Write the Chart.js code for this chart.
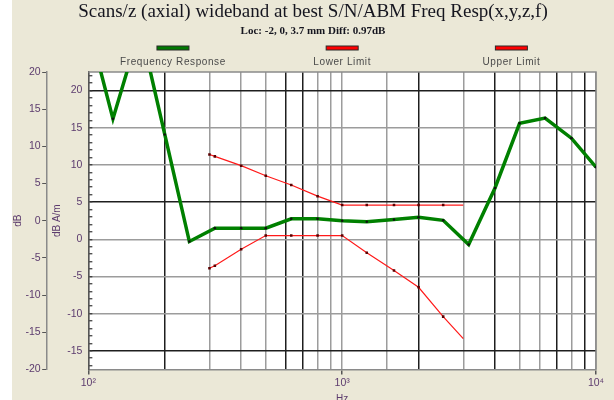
<!DOCTYPE html>
<html>
<head>
<meta charset="utf-8">
<title>Scans/z (axial) wideband - Freq Resp</title>
<script src="https://cdn.jsdelivr.net/npm/chart.js@4.4.0/dist/chart.umd.min.js"></script>
<style>
  html, body { margin: 0; padding: 0; background: #fff; overflow: hidden; }
  #wrap { position: absolute; left: 12px; top: 0; width: 602px; height: 405px; background: #ebe8d7; }
</style>
</head>
<body>
<div id="wrap"><canvas id="chart" width="602" height="405"></canvas></div>
<script>
// 1/3 octave response (dB A/m)
const freqHz = [100, 125, 160, 200, 250, 315, 400, 500, 630, 800, 1000, 1250, 1600, 2000, 2500, 3150, 4000, 5000, 6300, 8000, 10000];
const freqDb = [29, 16.2, 28.5, 14.1, -0.3, 1.5, 1.5, 1.5, 2.75, 2.75, 2.5, 2.35, 2.65, 2.95, 2.55, -0.7, 6.9, 15.6, 16.3, 13.6, 9.7];

// limit masks
const limitHz = [300, 315, 400, 500, 630, 800, 1000, 1250, 1600, 2000, 2500, 3000];
const lowerLimitDb = [-3.9, -3.55, -1.35, 0.5, 0.5, 0.5, 0.5, -1.8, -4.2, -6.45, -10.4, -13.35];
const upperLimitDb = [11.4, 11.15, 9.9, 8.55, 7.3, 5.8, 4.6, 4.6, 4.6, 4.6, 4.6, 4.6];

// axis ticks
const xTickValues = [100, 1000, 10000];
const xTickLabels = ['10²', '10³', '10⁴'];
const yMajorTicks = [-15, -10, -5, 0, 5, 10, 15, 20];
const yOuterTicks = [-20, -15, -10, -5, 0, 5, 10, 15, 20];

// grid lines that came out dark in the original render
const darkX = [200, 600, 700, 2000, 4000, 7000, 9000];
const darkY = [20, 5, -15];

const labelColor = '#5c3b6e';
const tickFont = { family: '"Liberation Sans", Arial, sans-serif', size: 10.5 };

function toPoints(xs, ys) {
    return xs.map((x, i) => ({ x: x, y: ys[i] }));
}

const plotFrame = {
    id: 'plotFrame',
    beforeDraw(chart) {
        const { ctx, chartArea: a } = chart;
        ctx.save();
        ctx.fillStyle = '#fff';
        ctx.fillRect(a.left, a.top, a.right - a.left, a.bottom - a.top);
        ctx.restore();
    },
    beforeDatasetsDraw(chart) {
        const { ctx, chartArea: a } = chart;
        ctx.save();
        ctx.strokeStyle = '#8a8a8a';
        ctx.lineWidth = 1.5;
        ctx.beginPath();
        ctx.moveTo(a.left, a.top);
        ctx.lineTo(a.right, a.top);
        ctx.lineTo(a.right, a.bottom);
        ctx.stroke();
        ctx.restore();
    }
};

// legend: sample bar above each label, spread over the plot width
const headerLegend = {
    id: 'headerLegend',
    afterDraw(chart) {
        const { ctx, chartArea: a } = chart;
        const w = a.right - a.left;
        chart.data.datasets.forEach((ds, i) => {
            const cx = a.left + w * (2 * i + 1) / 6;
            ctx.save();
            ctx.fillStyle = ds.legendColor;
            ctx.fillRect(cx - 16, a.top - 26, 32, 4);
            ctx.strokeStyle = '#2a2a2a';
            ctx.lineWidth = 1;
            ctx.strokeRect(cx - 16, a.top - 26, 32, 4);
            ctx.font = '10px "Liberation Sans", Arial, sans-serif';
            ctx.letterSpacing = '0.6px';
            ctx.fillStyle = '#4a4a4a';
            ctx.textAlign = 'center';
            ctx.textBaseline = 'middle';
            ctx.fillText(ds.label, cx, a.top - 9.5);
            ctx.restore();
        });
    }
};

const lastLimit = limitHz.length - 1;

new Chart(document.getElementById('chart'), {
    type: 'line',
    data: {
        datasets: [{
            label: 'Frequency Response',
            data: toPoints(freqHz, freqDb),
            borderColor: '#008000',
            legendColor: '#007800',
            borderWidth: 3.5,
            pointRadius: 1.3,
            pointBackgroundColor: '#111',
            pointBorderWidth: 0,
            yAxisID: 'y'
        }, {
            label: 'Lower Limit',
            data: toPoints(limitHz, lowerLimitDb),
            borderColor: '#ff1a1a',
            legendColor: '#ff0000',
            borderWidth: 1.2,
            pointStyle: 'rect',
            pointRadius: ctx => ctx.dataIndex === lastLimit ? 0 : 1.8,
            pointBackgroundColor: '#5a0000',
            pointBorderWidth: 0,
            yAxisID: 'y'
        }, {
            label: 'Upper Limit',
            data: toPoints(limitHz, upperLimitDb),
            borderColor: '#ff1a1a',
            legendColor: '#ff0000',
            borderWidth: 1.2,
            pointStyle: 'rect',
            pointRadius: ctx => ctx.dataIndex === lastLimit ? 0 : 1.8,
            pointBackgroundColor: '#5a0000',
            pointBorderWidth: 0,
            yAxisID: 'y'
        }]
    },
    options: {
        responsive: false,
        animation: false,
        devicePixelRatio: 1,
        layout: { padding: 0 },
        plugins: {
            legend: { display: false },
            tooltip: { enabled: false },
            title: {
                display: true,
                text: 'Scans/z (axial) wideband at best S/N/ABM Freq Resp(x,y,z,f)',
                color: '#15151f',
                font: { family: '"Liberation Serif", "Times New Roman", serif', size: 19, weight: 'normal' },
                padding: { top: 1, bottom: 0 }
            },
            subtitle: {
                display: true,
                text: 'Loc: -2, 0, 3.7 mm Diff: 0.97dB',
                color: '#15151f',
                font: { family: '"Liberation Serif", "Times New Roman", serif', size: 11, weight: 'bold' },
                padding: { top: 1, bottom: 34 }
            }
        },
        scales: {
            x: {
                type: 'logarithmic',
                min: 100,
                max: 10000,
                // keep a right margin for the plot without narrowing the title box
                afterFit: scale => { scale.paddingRight = 18; },
                border: { color: '#8a8a8a', width: 1.5 },
                grid: {
                    color: ctx => darkX.includes(ctx.tick.value) ? '#1e1e1e' : '#9c9c9c',
                    lineWidth: 1.5,
                    tickLength: 5,
                    tickColor: ctx => xTickValues.includes(ctx.tick.value) ? '#555' : 'rgba(0,0,0,0)'
                },
                ticks: {
                    autoSkip: false,
                    maxRotation: 0,
                    padding: 2,
                    color: labelColor,
                    font: tickFont,
                    callback: v => {
                        const k = xTickValues.indexOf(v);
                        return k < 0 ? '' : xTickLabels[k];
                    }
                },
                title: {
                    display: true,
                    text: 'Hz',
                    color: labelColor,
                    font: { family: '"Liberation Sans", Arial, sans-serif', size: 10 },
                    padding: { top: 2, bottom: 0 }
                }
            },
            y: {
                position: 'left',
                weight: 0,
                min: -17.5,
                max: 22.5,
                afterBuildTicks: scale => {
                    const t = [];
                    for (let v = -17; v <= 22; v++) t.push({ value: v });
                    scale.ticks = t;
                },
                border: { color: '#555', width: 1.5 },
                grid: {
                    color: ctx => {
                        const v = ctx.tick.value;
                        if (!yMajorTicks.includes(v)) return 'rgba(0,0,0,0)';
                        return darkY.includes(v) ? '#1e1e1e' : '#9c9c9c';
                    },
                    lineWidth: 1.5,
                    tickLength: -4,
                    tickColor: '#333',
                    tickWidth: 1.2
                },
                ticks: {
                    autoSkip: false,
                    padding: 10,
                    color: labelColor,
                    font: tickFont,
                    callback: v => yMajorTicks.includes(v) ? String(v) : ''
                },
                title: {
                    display: true,
                    text: 'dB A/m',
                    color: labelColor,
                    font: { family: '"Liberation Sans", Arial, sans-serif', size: 10 },
                    padding: { top: 4, bottom: -6 }
                }
            },
            y2: {
                position: 'left',
                weight: 1,
                min: -20,
                max: 20,
                afterBuildTicks: scale => {
                    scale.ticks = yOuterTicks.map(v => ({ value: v }));
                },
                border: { color: '#8a8a8a', width: 1.5 },
                grid: { drawOnChartArea: false, tickLength: 5, color: '#555' },
                ticks: { padding: 1.5, color: labelColor, font: tickFont },
                title: {
                    display: true,
                    text: 'dB',
                    color: labelColor,
                    font: { family: '"Liberation Sans", Arial, sans-serif', size: 10 },
                    padding: 0
                }
            }
        }
    },
    plugins: [plotFrame, headerLegend]
});
</script>
</body>
</html>
